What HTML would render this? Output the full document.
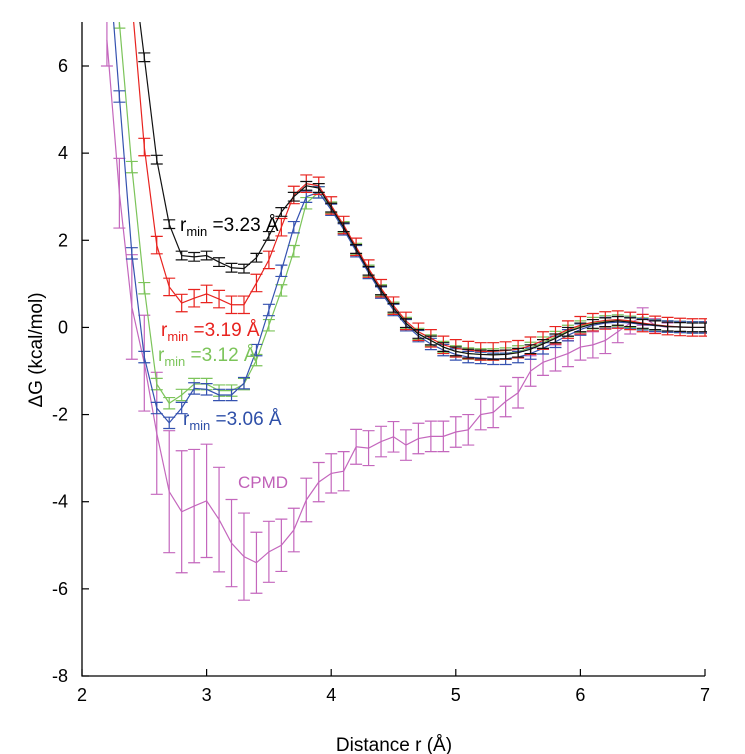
<!DOCTYPE html>
<html><head><meta charset="utf-8"><style>
body{margin:0;background:#fff;}
svg{display:block;font-family:"Liberation Sans",Arial,sans-serif;}
</style></head><body>
<svg id="chart" width="745" height="754" viewBox="0 0 745 754" xmlns="http://www.w3.org/2000/svg">
<defs><clipPath id="clip"><rect x="82" y="22" width="625" height="656"/></clipPath></defs>
<g id="marks" clip-path="url(#clip)"></g>
<g id="axes"></g>
<text x="180" y="231" font-size="19" fill="#000">r<tspan font-size="13" dy="5">min</tspan><tspan dy="-5"> =3.23 Å</tspan></text>
<text x="161" y="336" font-size="19" fill="#e8231f">r<tspan font-size="13" dy="5">min</tspan><tspan dy="-5"> =3.19 Å</tspan></text>
<text x="158" y="361" font-size="19" fill="#7cc45a">r<tspan font-size="13" dy="5">min</tspan><tspan dy="-5"> =3.12 Å</tspan></text>
<text x="183" y="425" font-size="19" fill="#2e4fa8">r<tspan font-size="13" dy="5">min</tspan><tspan dy="-5"> =3.06 Å</tspan></text>
<text x="238" y="488" font-size="17" fill="#c060b8">CPMD</text>
<text x="394" y="751" font-size="19" text-anchor="middle">Distance r (Å)</text>
<text transform="translate(42,350) rotate(-90)" font-size="19" text-anchor="middle">ΔG (kcal/mol)</text>
</svg>
<script>
const xTicks=[2,3,4,5,6,7];
const yTicks=[6,4,2,0,-2,-4,-6,-8];
const rBlack=[2.4,2.5,2.6,2.7,2.8,2.9,3.0,3.1,3.2,3.3,3.4,3.5,3.6,3.7,3.8,3.9,4.0,4.1,4.2,4.3,4.4,4.5,4.6,4.7,4.8,4.9,5.0,5.1,5.2,5.3,5.4,5.5,5.6,5.7,5.8,5.9,6.0,6.1,6.2,6.3,6.4,6.5,6.6,6.7,6.8,6.9,7.0];
const gBlack=[8.5,6.2,3.85,2.37,1.65,1.62,1.65,1.5,1.37,1.35,1.6,2.1,2.65,3.0,3.25,3.2,2.75,2.3,1.8,1.3,0.85,0.45,0.1,-0.15,-0.3,-0.45,-0.55,-0.6,-0.62,-0.63,-0.62,-0.58,-0.5,-0.38,-0.25,-0.1,0.0,0.08,0.12,0.15,0.12,0.08,0.05,0.02,0.01,0,0];
const rRed=[2.4,2.5,2.6,2.7,2.8,2.9,3.0,3.1,3.2,3.3,3.4,3.5,3.6,3.7,3.8,3.9,4.0,4.1,4.2,4.3,4.4,4.5,4.6,4.7,4.8,4.9,5.0,5.1,5.2,5.3,5.4,5.5,5.6,5.7,5.8,5.9,6.0,6.1,6.2,6.3,6.4,6.5,6.6,6.7,6.8,6.9,7.0];
const gRed=[7.5,4.14,1.89,0.93,0.56,0.67,0.77,0.65,0.52,0.52,1.02,1.55,2.3,3.04,3.3,3.25,2.8,2.35,1.85,1.35,0.9,0.5,0.15,-0.1,-0.25,-0.4,-0.48,-0.52,-0.55,-0.55,-0.53,-0.5,-0.42,-0.3,-0.18,-0.05,0.05,0.12,0.16,0.18,0.15,0.1,0.06,0.03,0.01,0,0];
const rGreen=[2.3,2.4,2.5,2.6,2.7,2.8,2.9,3.0,3.1,3.2,3.3,3.4,3.5,3.6,3.7,3.8,3.9,4.0,4.1,4.2,4.3,4.4,4.5,4.6,4.7,4.8,4.9,5.0,5.1,5.2,5.3,5.4,5.5,5.6,5.7,5.8,5.9,6.0,6.1,6.2,6.3,6.4,6.5,6.6,6.7,6.8,6.9,7.0];
const gGreen=[7.0,3.68,0.9,-1.3,-1.74,-1.55,-1.3,-1.3,-1.45,-1.45,-1.3,-0.75,0.05,0.85,1.75,2.85,3.1,2.75,2.3,1.8,1.3,0.85,0.45,0.1,-0.15,-0.3,-0.45,-0.55,-0.6,-0.62,-0.62,-0.6,-0.55,-0.47,-0.35,-0.22,-0.08,0.02,0.1,0.14,0.16,0.13,0.09,0.05,0.02,0.01,0,0];
const rBlue=[2.2,2.3,2.4,2.5,2.6,2.7,2.8,2.9,3.0,3.1,3.2,3.3,3.4,3.5,3.6,3.7,3.8,3.9,4.0,4.1,4.2,4.3,4.4,4.5,4.6,4.7,4.8,4.9,5.0,5.1,5.2,5.3,5.4,5.5,5.6,5.7,5.8,5.9,6.0,6.1,6.2,6.3,6.4,6.5,6.6,6.7,6.8,6.9,7.0];
const gBlue=[9.0,5.3,1.7,-0.68,-1.85,-2.19,-1.85,-1.4,-1.42,-1.55,-1.55,-1.28,-0.52,0.4,1.3,2.3,3.0,3.1,2.7,2.25,1.75,1.25,0.8,0.4,0.05,-0.2,-0.38,-0.52,-0.62,-0.68,-0.7,-0.72,-0.72,-0.68,-0.6,-0.48,-0.33,-0.18,-0.05,0.05,0.1,0.12,0.1,0.07,0.04,0.02,0.01,0,0];
const rCpmd=[2.2,2.3,2.4,2.5,2.6,2.7,2.8,2.9,3.0,3.1,3.2,3.3,3.4,3.5,3.6,3.7,3.8,3.9,4.0,4.1,4.2,4.3,4.4,4.5,4.6,4.7,4.8,4.9,5.0,5.1,5.2,5.3,5.4,5.5,5.6,5.7,5.8,5.9,6.0,6.1,6.2,6.3,6.4,6.5,6.6,6.7];
const gCpmd=[6.6,3.08,0.47,-0.82,-2.43,-3.77,-4.23,-4.1,-3.98,-4.41,-4.95,-5.26,-5.4,-5.15,-5.0,-4.65,-3.96,-3.55,-3.35,-3.3,-2.74,-2.77,-2.62,-2.51,-2.7,-2.55,-2.5,-2.5,-2.4,-2.35,-2.0,-1.95,-1.7,-1.5,-1.0,-0.8,-0.7,-0.6,-0.45,-0.4,-0.3,-0.1,0.1,0.25,0.05,0.0];
const eCpmd=[0.6,0.8,1.2,1.1,1.4,1.4,1.4,1.3,1.3,1.2,1.0,1.0,0.7,0.7,0.6,0.5,0.5,0.45,0.45,0.45,0.4,0.4,0.35,0.35,0.35,0.35,0.35,0.35,0.35,0.35,0.35,0.35,0.35,0.35,0.35,0.3,0.3,0.3,0.3,0.3,0.3,0.25,0.25,0.2,0.15,0.1];
const errBlack=0.1, errRed=0.2, errGreen=0.13, errBlue=0.13;

const X0=82,X1=705,Y6=66,Ym8=676;
const sx=r=>X0+(r-2)*(X1-X0)/5;
const sy=v=>Y6+(6-v)*(Ym8-Y6)/14;
const NS='http://www.w3.org/2000/svg';
const marks=document.getElementById('marks'), axes=document.getElementById('axes');
function mk(tag,attrs,parent){const e=document.createElementNS(NS,tag);for(const k in attrs)e.setAttribute(k,attrs[k]);parent.appendChild(e);return e;}

function series(rs,gs,errs,color,name){
  const g=mk('g',{},marks);
  
  
  for(let i=0;i<rs.length;i++){
    const e=Array.isArray(errs)?errs[i]:errs;
    const x=sx(rs[i]),y1=sy(gs[i]+e),y2=sy(gs[i]-e);
    const eb=mk('path',{d:`M${x},${y1}V${y2}M${x-6},${y1}H${x+6}M${x-6},${y2}H${x+6}`,stroke:color,'stroke-width':1.2,fill:'none'},g);
    
    
  }
  const ln=mk('polyline',{points:rs.map((r,i)=>sx(r)+','+sy(gs[i])).join(' '),stroke:color,'stroke-width':1.2,fill:'none'},g);
  
  
}
series(rCpmd,gCpmd,eCpmd,'#c467bd','cpmd');
series(rGreen,gGreen,errGreen,'#7cc45a','green');
series(rBlue,gBlue,errBlue,'#3552b0','blue');
series(rRed,gRed,errRed,'#e8231f','red');
series(rBlack,gBlack,errBlack,'#111','black');

const axl=mk('path',{d:`M${X0},22V${Ym8}H${X1}`,stroke:'#000','stroke-width':1.3,fill:'none'},axes);


xTicks.forEach(t=>{
  const x=sx(t);
  const tk=mk('line',{x1:x,x2:x,y1:Ym8,y2:Ym8-7,stroke:'#000','stroke-width':1.2},axes);
  
  
  const tx=mk('text',{x:x,y:Ym8+25,'font-size':18,'text-anchor':'middle'},axes);
  tx.textContent=t;
  
  
});
yTicks.forEach(t=>{
  const y=sy(t);
  const tk=mk('line',{x1:X0,x2:X0+7,y1:y,y2:y,stroke:'#000','stroke-width':1.2},axes);
  
  
  const tx=mk('text',{x:X0-14,y:y+6,'font-size':18,'text-anchor':'end'},axes);
  tx.textContent=t;
  
  
});
</script>
</body></html>
